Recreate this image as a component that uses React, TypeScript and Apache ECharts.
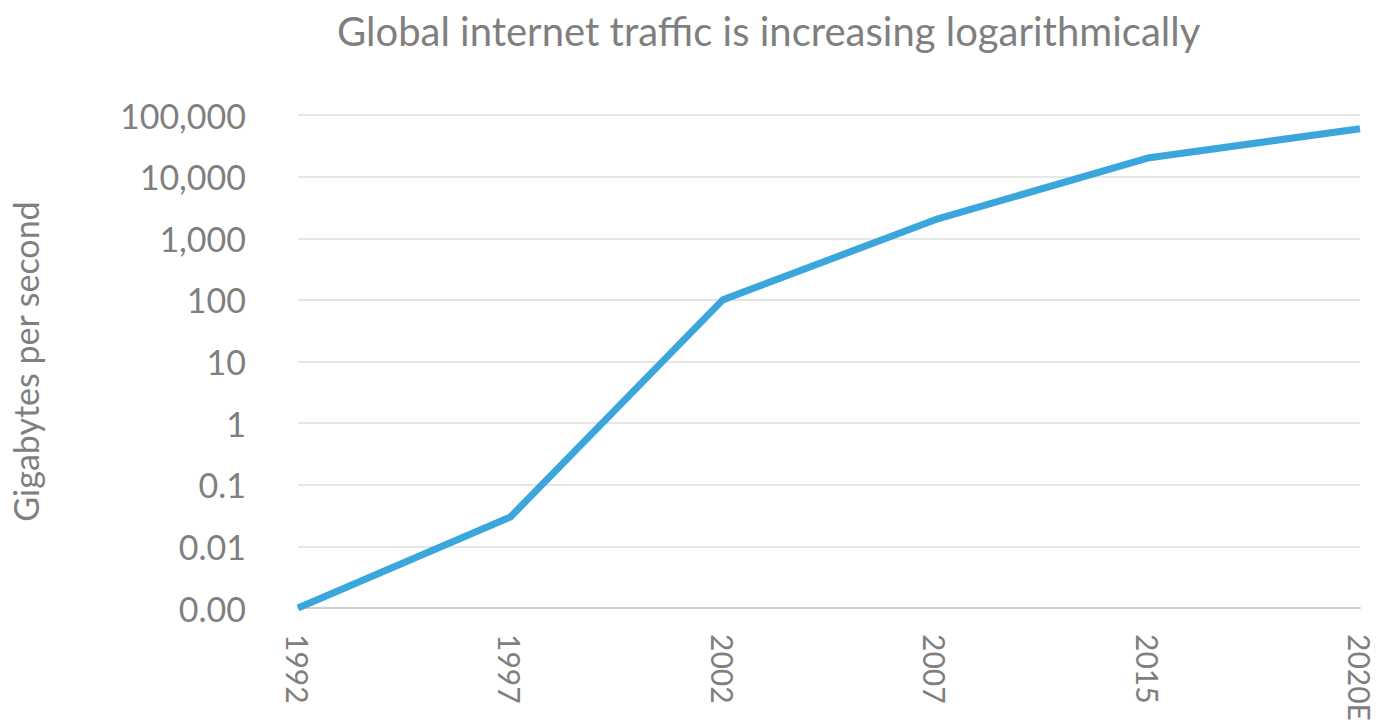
import React, { useEffect, useRef } from "react";
import * as echarts from "echarts";

const years = ["1992", "1997", "2002", "2007", "2015", "2020E"];
const traffic = [0.001, 0.03, 100, 2000, 20000, 60000];
const titleText = "Global internet traffic is increasing logarithmically";
const yAxisName = "Gigabytes per second";

function fmt(v: number): string {
  if (v >= 1) return Math.round(v).toLocaleString("en-US");
  if (v < 0.005) return "0.00";
  return String(Number(v.toPrecision(1)));
}

export default function App() {
  const ref = useRef<HTMLDivElement>(null);
  useEffect(() => {
    if (!ref.current) return;
    const chart = echarts.init(ref.current, undefined, { renderer: "svg" });
    const font = "Lato, 'Open Sans', sans-serif";
    chart.setOption({
      animation: false,
      backgroundColor: "#ffffff",
      title: {
        text: titleText,
        left: 332,
        top: 6,
        textStyle: { fontFamily: font, fontSize: 40, fontWeight: "normal", color: "#7f7f7f" },
      },
      grid: {
        left: 298,
        right: 27,
        top: 115,
        bottom: 115,
        containLabel: false,
        outerBoundsMode: "none",
      },
      xAxis: {
        type: "category",
        data: years,
        boundaryGap: false,
        axisLine: { show: true, lineStyle: { color: "#cfcfcf", width: 2 } },
        axisTick: { show: false },
        axisLabel: {
          rotate: -90,
          margin: 26,
          fontFamily: font,
          fontSize: 30,
          color: "#7f7f7f",
          hideOverlap: false,
        },
        splitLine: { show: false },
      },
      yAxis: {
        type: "log",
        logBase: 10,
        min: 0.001,
        max: 100000,
        name: yAxisName,
        nameLocation: "middle",
        nameGap: 256,
        nameRotate: 90,
        nameTextStyle: { fontFamily: font, fontSize: 34, color: "#7f7f7f" },
        axisLine: { show: false },
        axisTick: { show: false },
        axisLabel: {
          margin: 52,
          fontFamily: font,
          fontSize: 34,
          color: "#7f7f7f",
          formatter: (v: number) => fmt(v),
        },
        splitLine: { show: true, lineStyle: { color: "#e6e6e6", width: 2 } },
      },
      series: [
        {
          type: "line",
          data: traffic,
          showSymbol: false,
          symbol: "none",
          lineStyle: { color: "#3ba6dc", width: 7 },
          itemStyle: { color: "#3ba6dc" },
        },
      ],
    });
    return () => chart.dispose();
  }, []);
  return <div ref={ref} style={{ width: 1387, height: 723, position: "absolute", left: 0, top: 0 }} />;
}
